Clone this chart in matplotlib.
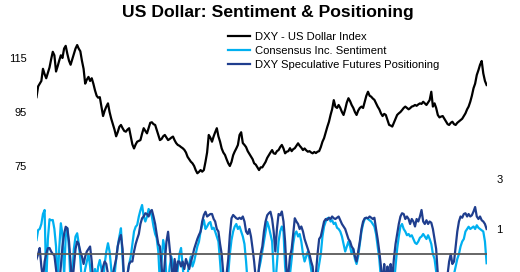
import matplotlib
matplotlib.use("Agg")
import matplotlib.pyplot as plt
import pandas as pd

plt.rcParams['font.family'] = ['Liberation Sans', 'DejaVu Sans']

start_month = "2000-01-01"

dxy = [
    100.5, 104.5, 105.5, 106.5, 111.0, 109.0, 107.5, 109.5, 111.5, 114.5, 117.3, 116.0,
    110.0, 112.0, 114.0, 116.0, 115.0, 118.5, 119.5, 116.5, 114.0, 112.5, 114.5, 116.5,
    118.5, 119.8, 118.5, 117.5, 114.0, 111.0, 105.5, 107.0, 108.0, 106.5, 107.5, 105.5,
    103.0, 101.0, 100.3, 100.5, 97.0, 93.5, 95.5, 97.0, 98.2, 95.0, 92.5, 90.5,
    88.5, 86.0, 87.5, 89.5, 90.2, 89.0, 88.0, 87.7, 88.5, 89.0, 86.0, 83.0,
    81.5, 83.0, 84.0, 84.3, 84.6, 87.0, 89.0, 88.0, 87.1, 89.0, 91.0, 91.2,
    90.5, 90.2, 88.5, 86.5, 84.6, 85.0, 86.0, 86.5, 85.5, 84.6, 85.0, 85.5,
    85.9, 84.5, 83.5, 82.8, 82.5, 82.0, 81.6, 81.0, 80.0, 78.4, 77.5, 76.6,
    76.0, 75.0, 73.5, 72.3, 72.8, 73.5, 72.9, 73.5, 76.6, 80.0, 86.5, 85.5,
    84.0, 86.0, 87.5, 89.0, 86.0, 84.0, 81.5, 80.0, 79.1, 77.5, 76.0, 75.0,
    76.5, 79.0, 80.3, 81.5, 82.8, 86.5, 87.5, 83.5, 82.8, 82.0, 80.5, 79.5,
    78.5, 77.5, 76.0, 75.5, 74.5, 73.5, 74.5, 74.5, 75.5, 76.5, 78.0, 79.0,
    80.0, 80.9, 79.7, 79.5, 80.5, 80.9, 82.0, 82.8, 81.5, 79.7, 80.3, 80.5,
    81.6, 80.5, 81.2, 81.6, 82.5, 83.4, 82.5, 81.8, 80.9, 81.5, 80.8, 80.3,
    80.5, 80.0, 79.7, 80.2, 79.8, 80.3, 80.5, 82.0, 84.0, 85.3, 87.5, 89.5,
    91.4, 94.0, 96.0, 99.4, 97.0, 96.5, 97.6, 96.5, 95.0, 93.9, 96.0, 98.5,
    100.1, 99.0, 97.6, 96.5, 95.0, 93.9, 95.5, 96.5, 97.0, 96.5, 98.8, 101.0,
    102.5, 101.0, 100.7, 100.0, 99.5, 98.2, 97.0, 96.0, 94.5, 93.5, 94.3, 93.9,
    92.0, 90.2, 90.0, 89.6, 91.0, 92.5, 93.9, 94.5, 95.0, 95.7, 96.5, 97.0,
    96.5, 96.0, 96.4, 97.0, 97.2, 97.6, 97.3, 97.8, 98.2, 98.0, 98.8, 98.2,
    97.6, 98.5, 99.4, 102.5, 97.0, 98.2, 96.5, 93.9, 93.0, 93.3, 93.5, 92.5,
    91.5, 90.5, 90.2, 91.0, 91.4, 90.5, 90.2, 91.0, 91.5, 92.0, 92.5, 93.5,
    94.5, 96.0, 97.0, 98.8, 101.0, 103.8, 105.5, 108.7, 110.5, 112.5, 113.9, 109.3,
    106.5, 105.0,
]

consensus = [
    0.56, 0.96, 1.0, 1.2, 1.6, 1.76, -1.2, 0.6, 1.39, 1.35, 1.36, 1.0,
    0.3, -1.2, 0.2, 1.23, 0.8, -0.9, 0.7, 1.03, 0.2, -1.2, -0.8, 0.2,
    0.7, 0.83, 0.43, -0.2, -1.2, -1.0, -0.6, -0.3, 0.0, -0.5, -1.2, -1.0,
    -0.6, -1.0, -0.5, -0.24, -0.6, -1.2, -0.4, 0.1, 0.43, 0.1, -0.6, -1.2,
    -0.9, -0.2, 0.3, 0.7, 1.03, -0.2, -1.2, -1.2, -0.8, -0.4, -0.1, 0.4,
    0.9, 1.09, 1.16, 1.5, 1.75, 1.96, 1.5, 1.3, 1.5, 1.8, 1.7, 1.5,
    1.1, 0.8, 0.64, 0.1, -1.2, -0.3, 0.56, 0.2, -1.0, -1.2, -0.5, -0.1,
    -0.4, -1.2, -1.2, -0.6, 0.0, 0.24, -0.5, -1.2, -1.2, -0.8, -0.4, -0.1,
    -0.5, -0.3, 0.0, 0.3, 0.49, 0.9, 1.16, 1.36, 1.0, 1.1, 1.23, 1.28,
    1.0, 1.05, 0.9, 0.7, 0.5, -0.3, -1.2, -1.2, -1.0, -1.2, -0.8, 0.0,
    0.56, 0.9, 1.09, 1.2, 1.0, 1.1, 0.9, 0.7, 0.4, -0.3, -1.2, -1.2,
    -1.0, -1.2, -0.9, -1.2, -1.0, -0.6, -0.3, 0.1, 0.5, 0.9, 1.29, 1.09,
    0.8, 0.5, -0.7, -1.2, -0.4, 0.5, 0.9, 1.1, 0.9, -0.5, -1.2, -1.2,
    -0.8, -0.2, 0.4, 0.8, 0.9, 0.7, 0.8, 0.5, 0.0, -0.3, -0.1, 0.1,
    -0.2, -0.6, -1.0, -1.2, -1.2, -0.8, -0.4, 0.0, 0.7, 1.1, 1.3, 1.43,
    1.45, 1.3, 1.35, 1.2, 1.25, 1.05, 1.0, 0.9, 0.7, 0.4, 0.1, 0.3,
    0.5, 0.3, 0.0, 0.2, -0.2, -0.4, -0.1, 0.4, 0.9, 1.2, 1.4, 1.45,
    1.4, 1.35, 1.3, 1.2, 1.1, 0.8, 0.3, -0.2, -1.0, -1.2, -1.2, -1.2,
    -1.0, -1.2, -1.2, -1.0, -1.2, -0.5, 0.2, 0.7, 1.1, 1.2, 1.0, 0.9,
    0.75, 0.8, 0.7, 0.75, 0.6, 0.45, 0.4, 0.5, 0.65, 0.7, 0.8, 0.7,
    0.6, 0.75, 0.6, 0.4, 0.0, -0.2, -0.7, -1.2, -1.2, -1.2, -1.0, -1.2,
    -1.2, -1.2, -1.0, -1.2, -1.0, -0.8, -0.5, -0.2, 0.0, 0.3, 0.5, 0.6,
    0.9, 1.0, 1.09, 1.0, 1.05, 1.1, 1.0, 1.15, 1.05, 1.0, 0.95, 0.9,
    0.5, -0.37,
]

positioning = [
    -0.2, 0.0, 0.24, -0.5, -1.0, -0.3, 0.0, 0.23, 0.24, 0.1, 0.0, -0.05,
    -0.6, -1.2, -1.2, -0.5, 0.3, 0.8, 1.09, 1.03, 0.5, -0.4, -1.2, -0.5,
    0.2, 0.5, 0.4, 0.1, -0.1, -0.4, -0.1, 0.1, 0.2, 0.3, -0.3, -1.2,
    -1.2, -1.0, -1.2, -1.0, -0.8, -0.5, -0.3, -0.4, -0.8, -1.2, -1.2, -0.8,
    -0.5, -0.2, 0.3, 0.6, 0.76, 0.2, -1.2, -1.2, -0.8, -0.4, -0.3, -0.3,
    0.1, 0.4, 0.6, 0.8, 1.2, 1.43, 1.5, 1.63, 1.6, 1.5, 1.69, 1.76,
    1.5, 1.2, 0.8, 0.4, 0.3, -0.5, -1.2, -0.3, 0.5, 0.89, 0.2, -0.4,
    -1.2, -0.2, -0.8, -0.3, -0.3, -0.5, -0.3, -0.6, -0.2, -0.4, -0.6, -0.3,
    -0.1, 0.2, 0.4, 0.6, 0.76, 0.9, 1.3, 1.56, 1.69, 1.5, 1.55, 1.6,
    1.6, 1.4, 1.3, 1.0, 0.9, 0.4, 0.0, -0.8, -1.2, -0.8, -0.2, 0.76,
    1.43, 1.56, 1.5, 1.43, 1.4, 1.45, 1.4, 1.5, 1.3, 0.9, 0.8, 1.0,
    0.7, 0.2, -0.3, -1.0, -1.2, -0.5, 0.0, 0.3, 0.9, 1.3, 1.55, 1.63,
    1.69, 1.4, 0.9, 0.1, 1.0, 1.6, 1.55, 1.7, 1.3, 0.5, -0.8, -0.8,
    -0.1, 0.2, 0.8, 1.43, 1.3, 1.2, 1.0, 1.1, 0.9, 0.6, 0.4, 0.2,
    0.0, -0.3, -0.5, -1.2, -0.8, 0.0, 0.6, 0.7, 1.0, 1.3, 1.4, 1.36,
    1.45, 1.4, 1.5, 1.43, 1.4, 1.45, 1.5, 1.35, 1.2, 1.1, 1.0, 0.8,
    0.6, 0.5, 0.3, 0.2, -0.1, -0.3, 0.1, 0.5, 1.0, 1.3, 1.43, 1.45,
    1.43, 1.5, 1.45, 1.4, 1.45, 1.0, 0.6, 0.1, -0.5, -1.2, -0.4, -1.2,
    -0.5, -1.2, -0.4, -1.0, -0.2, 0.4, 0.8, 1.2, 1.5, 1.63, 1.6, 1.4,
    1.5, 1.4, 1.2, 1.4, 1.3, 1.1, 1.4, 1.3, 1.5, 1.76, 1.3, 1.2,
    1.35, 1.2, 1.3, 1.25, 1.0, 0.6, 0.2, -0.8, -1.2, -1.2, -1.2, -1.2,
    -1.2, -0.8, -0.3, 0.0, -0.4, -0.3, 0.3, 0.9, 1.3, 1.5, 1.45, 1.6,
    1.63, 1.5, 1.6, 1.5, 1.55, 1.7, 1.88, 1.5, 1.4, 1.5, 1.35, 1.3,
    1.2, 1.0,
]

labels = ["DXY - US Dollar Index", "Consensus Inc. Sentiment",
          "DXY Speculative Futures Positioning"]
left_ticks = [75, 95, 115]
right_ticks = [1, 3]
title = "US Dollar: Sentiment & Positioning"

dates = pd.date_range(start_month, periods=len(dxy), freq="MS")

W, H = 520, 272
fig = plt.figure(figsize=(W / 100, H / 100), dpi=100)
x0, x1 = 36.5, 486.6
ytop = 31
ax = fig.add_axes([x0 / W, 0, (x1 - x0) / W, (H - ytop) / H])
ax2 = ax.twinx()

c_dxy = "#000000"
c_cons = "#00B0F0"
c_pos = "#1F3E8E"

l1, = ax.plot(dates, dxy, color=c_dxy, lw=1.6, label=labels[0])
l2, = ax2.plot(dates, consensus, color=c_cons, lw=1.6, label=labels[1])
l3, = ax2.plot(dates, positioning, color=c_pos, lw=1.6, label=labels[2])
ax2.axhline(0, color="#5a5a5a", lw=1.3, zorder=5)

ax.set_xlim(dates[0], dates[-1])
ax.set_ylim(35.74, 125)
ax2.set_ylim(-0.72, 8.92)
ax.set_yticks(left_ticks)
ax2.set_yticks(right_ticks)
ax.set_xticks([])
for a in (ax, ax2):
    for s in a.spines.values():
        s.set_visible(False)
    a.tick_params(axis="y", length=0, labelsize=8, pad=7)
ax.patch.set_visible(False)

fig.text(267.5 / W, 1 - 13 / H, title, ha="center", va="center",
         fontsize=12.6, fontweight="bold")

fig.legend(handles=[l1, l2, l3], labels=labels, loc="upper left",
           bbox_to_anchor=(228 / W, 1 - 32 / H), frameon=False,
           fontsize=8.1, handlelength=1.95, handletextpad=0.42,
           labelspacing=0.34, borderpad=0, borderaxespad=0)

fig.savefig("out.png", dpi=100)
